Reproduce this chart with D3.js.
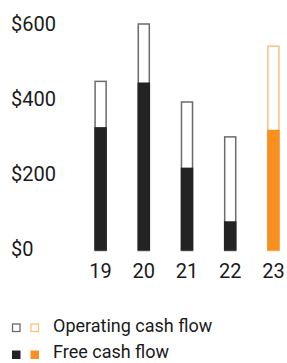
<!DOCTYPE html>
<html>
<head>
<meta charset="utf-8">
<script src="https://cdn.jsdelivr.net/npm/d3@7"></script>
<style>
  body { margin: 0; background: #fff; }
  text { font-family: Roboto, "Noto Sans", sans-serif; fill: #1a1a1a; }
</style>
</head>
<body>
<div id="chart"></div>
<script>
// Chart data
const years = ["19", "20", "21", "22", "23"];
const operatingCashFlow = [453, 606, 398, 305, 547];
const freeCashFlow = [329, 448, 221, 78, 322];
const highlightYear = "23";
const yTicks = [0, 200, 400, 600];

const W = 287, H = 363;
const dark = "#232323", darkLine = "#6b6b6b";
const orange = "#f7901e", orangeLine = "#fbbf80";

const svg = d3.select("#chart").append("svg")
  .attr("width", W)
  .attr("height", H);

const x = d3.scaleBand().domain(years).range([79, 295]).paddingInner(0.71).paddingOuter(0.355);
const y = d3.scaleLinear().domain([0, 600]).range([250.5, 25.5]);

// y labels
svg.append("g")
  .selectAll("text")
  .data(yTicks)
  .join("text")
  .attr("x", 11)
  .attr("y", d => y(d) + 5)
  .attr("font-size", "20px")
  .text(d => "$" + d);

// x labels
svg.append("g")
  .selectAll("text")
  .data(years)
  .join("text")
  .attr("x", d => x(d) + x.bandwidth() / 2)
  .attr("y", 278)
  .attr("text-anchor", "middle")
  .attr("font-size", "20px")
  .text(d => d);

const rows = years.map((yr, i) => ({ yr, ocf: operatingCashFlow[i], fcf: freeCashFlow[i] }));

// operating cash flow outlines
svg.append("g")
  .selectAll("rect")
  .data(rows)
  .join("rect")
  .attr("x", d => x(d.yr) + 0.75)
  .attr("y", d => y(d.ocf) + 0.75)
  .attr("width", x.bandwidth() - 1.5)
  .attr("height", d => y(0) - y(d.ocf) - 0.75)
  .attr("fill", "#fff")
  .attr("stroke", d => d.yr === highlightYear ? orangeLine : darkLine)
  .attr("stroke-width", 1.5);

// free cash flow bars
svg.append("g")
  .selectAll("rect")
  .data(rows)
  .join("rect")
  .attr("x", d => x(d.yr))
  .attr("y", d => y(d.fcf))
  .attr("width", x.bandwidth())
  .attr("height", d => y(0) - y(d.fcf))
  .attr("fill", d => d.yr === highlightYear ? orange : dark);

// legend
const legend = [
  { label: "Operating cash flow", open: true, y: 323.5, ty: 332 },
  { label: "Free cash flow", open: false, y: 350.5, ty: 357.5 }
];
const lg = svg.append("g");
legend.forEach(l => {
  [[12, darkLine, dark], [30.5, orangeLine, orange]].forEach(([lx, line, fill]) => {
    if (l.open) {
      lg.append("rect")
        .attr("x", lx + 0.5).attr("y", l.y + 0.5)
        .attr("width", 7.5).attr("height", 7.5)
        .attr("fill", "#fff").attr("stroke", line).attr("stroke-width", 1.3);
    } else {
      lg.append("rect")
        .attr("x", lx).attr("y", l.y)
        .attr("width", 8.5).attr("height", 8.5)
        .attr("fill", fill);
    }
  });
  lg.append("text")
    .attr("x", 53)
    .attr("y", l.ty)
    .attr("font-size", "18px")
    .text(l.label);
});
</script>
</body>
</html>
